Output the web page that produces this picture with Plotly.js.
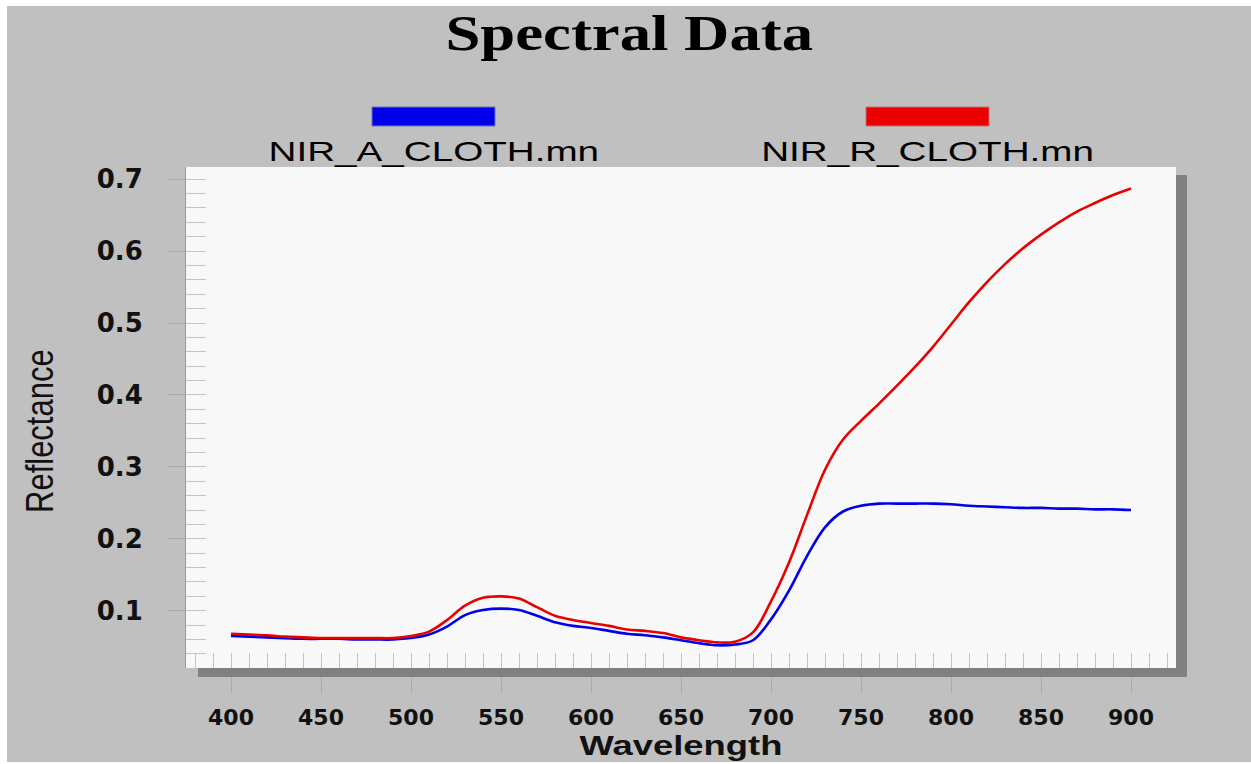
<!DOCTYPE html>
<html>
<head>
<meta charset="utf-8">
<script src="https://cdn.plot.ly/plotly-3.0.1.min.js"></script>
<style>
html,body{margin:0;padding:0;background:#fff;}
#chart{width:1251px;height:764px;}
/* the reference picture is stretched horizontally: widen some texts the same way */
#chart .gtitle{transform-box:fill-box;transform-origin:center;transform:scaleX(1.23);}
#chart .xtitle{transform-box:fill-box;transform-origin:center;transform:scaleX(1.3);}
#chart g.annotation[data-index="0"] text,
#chart g.annotation[data-index="1"] text{transform-box:fill-box;transform-origin:center;transform:scaleX(1.38);}
#chart g.annotation[data-index="2"] text{transform-box:fill-box;transform-origin:center;transform:scaleY(1.28);}
</style>
</head>
<body>
<div id="chart"></div>
<script>
// ---- data ----
const chartTitle = 'Spectral Data';
const xTitle = 'Wavelength';
const yTitle = 'Reflectance';
const seriesNames = ['NIR_A_CLOTH.mn', 'NIR_R_CLOTH.mn'];
const seriesColors = ['rgb(0,0,235)', 'rgb(235,0,0)'];

const wavelength = [400,410,420,430,440,450,460,470,480,490,
                    500,510,520,530,540,550,560,570,580,590,
                    600,610,620,630,640,650,660,670,680,690,
                    700,710,720,730,740,750,760,770,780,790,
                    800,810,820,830,840,850,860,870,880,890,900];

const reflA = [0.065,0.064,0.063,0.062,0.061,0.061,0.061,0.060,0.060,0.060,
               0.062,0.067,0.078,0.094,0.101,0.103,0.101,0.093,0.084,0.079,
               0.076,0.072,0.068,0.066,0.063,0.059,0.055,0.052,0.053,0.059,
               0.088,0.128,0.176,0.216,0.238,0.246,0.249,0.249,0.249,0.249,
               0.248,0.246,0.245,0.244,0.243,0.243,0.242,0.242,0.241,0.241,0.240];

const reflR = [0.068,0.067,0.066,0.064,0.063,0.062,0.062,0.062,0.062,0.062,
               0.065,0.071,0.087,0.107,0.118,0.120,0.117,0.105,0.093,0.087,
               0.083,0.079,0.074,0.072,0.069,0.063,0.059,0.056,0.057,0.070,
               0.113,0.167,0.233,0.296,0.338,0.364,0.388,0.413,0.439,0.467,
               0.498,0.529,0.557,0.582,0.604,0.623,0.640,0.655,0.667,0.678,0.687];

const xTickVals = [400,450,500,550,600,650,700,750,800,850,900];
const yTickVals = [0.1,0.2,0.3,0.4,0.5,0.6,0.7];

// ---- layout geometry (pixels) ----
const W = 1251, H = 764;
const L = 186, R = 1176, T = 167, B = 668;
const PX = p => (p - L) / (R - L);      // pixel x -> paper x
const PY = p => (B - p) / (B - T);      // pixel y -> paper y

const traces = [
  {x: wavelength, y: reflA, name: seriesNames[0], type: 'scatter', mode: 'lines',
   line: {color: seriesColors[0], width: 2.6, shape: 'spline', smoothing: 1}},
  {x: wavelength, y: reflR, name: seriesNames[1], type: 'scatter', mode: 'lines',
   line: {color: seriesColors[1], width: 2.6, shape: 'spline', smoothing: 1}},
  // invisible trace carrying the overlaying inner-tick axes
  {x: [wavelength[0]], y: [reflA[0]], xaxis: 'x2', yaxis: 'y2', mode: 'none',
   showlegend: false, hoverinfo: 'skip'}
];

const shadow = '#808080';
const shapes = [
  // drop shadow (right and bottom strips)
  {type: 'rect', xref: 'paper', yref: 'paper', layer: 'above', line: {width: 0},
   fillcolor: shadow, x0: PX(1176), x1: PX(1187), y0: PY(677), y1: PY(175)},
  {type: 'rect', xref: 'paper', yref: 'paper', layer: 'above', line: {width: 0},
   fillcolor: shadow, x0: PX(198), x1: PX(1187), y0: PY(677), y1: PY(668)},
  // legend swatches
  {type: 'rect', xref: 'paper', yref: 'paper', line: {color: '#7070c0', width: 1},
   fillcolor: seriesColors[0], x0: PX(372), x1: PX(495), y0: PY(126), y1: PY(107)},
  {type: 'rect', xref: 'paper', yref: 'paper', line: {color: '#c07070', width: 1},
   fillcolor: seriesColors[1], x0: PX(866), x1: PX(989), y0: PY(126), y1: PY(107)},
  // white image borders
  {type: 'rect', xref: 'paper', yref: 'paper', layer: 'above', line: {width: 0},
   fillcolor: '#ffffff', x0: PX(0), x1: PX(W), y0: PY(6), y1: PY(0)},
  {type: 'rect', xref: 'paper', yref: 'paper', layer: 'above', line: {width: 0},
   fillcolor: '#ffffff', x0: PX(0), x1: PX(7), y0: PY(H), y1: PY(0)},
  {type: 'rect', xref: 'paper', yref: 'paper', layer: 'above', line: {width: 0},
   fillcolor: '#ffffff', x0: PX(0), x1: PX(W), y0: PY(H), y1: PY(762)}
];

const legendFont = {family: 'Liberation Sans, Arial, sans-serif', size: 28, color: '#000'};
const annotations = [
  {xref: 'paper', yref: 'paper', x: PX(433.5), y: PY(151), text: seriesNames[0],
   showarrow: false, xanchor: 'center', yanchor: 'middle', font: legendFont},
  {xref: 'paper', yref: 'paper', x: PX(927.5), y: PY(151), text: seriesNames[1],
   showarrow: false, xanchor: 'center', yanchor: 'middle', font: legendFont},
  // y-axis title
  {xref: 'paper', yref: 'paper', x: PX(40), y: PY(431), text: yTitle, textangle: -90,
   showarrow: false, xanchor: 'center', yanchor: 'middle',
   font: {family: 'Liberation Sans, Arial, sans-serif', size: 31, color: '#111'}}
];

const tickFontY = {family: 'DejaVu Sans, Arial, sans-serif', size: 26, color: '#111', weight: 'bold'};
const tickFontX = {family: 'DejaVu Sans, Arial, sans-serif', size: 22, color: '#111', weight: 'bold'};

const layout = {
  width: W, height: H,
  paper_bgcolor: '#c0c0c0',
  plot_bgcolor: '#f8f8f8',
  margin: {l: L, r: W - R, t: T, b: H - B, pad: 0},
  showlegend: false,
  title: {
    text: '<b>' + chartTitle + '</b>',
    font: {family: 'Liberation Serif, Times New Roman, serif', size: 51, color: '#000'},
    xref: 'container', x: 0.503, xanchor: 'center',
    yref: 'container', y: 1 - 32 / H, yanchor: 'middle'
  },
  xaxis: {
    range: [375, 925], tickvals: xTickVals, ticktext: xTickVals.map(String),
    ticks: 'outside', ticklen: 24, tickcolor: '#a8a8a8', tickwidth: 1,
    showgrid: false, zeroline: false, showline: false,
    tickfont: tickFontX, ticklabelstandoff: 6,
    title: {text: '<b>' + xTitle + '</b>', standoff: 6,
            font: {family: 'Liberation Sans, Arial, sans-serif', size: 28, color: '#111'}}
  },
  yaxis: {
    range: [0.0204, 0.717], tickvals: yTickVals, ticktext: yTickVals.map(v => v.toFixed(1)),
    ticks: 'outside', ticklen: 17, tickcolor: '#a8a8a8', tickwidth: 1,
    showgrid: false, zeroline: false, showline: true, linecolor: '#9a9a9a', linewidth: 1,
    tickfont: tickFontY, ticklabelstandoff: 20
  },
  xaxis2: {
    overlaying: 'x', matches: 'x', anchor: 'y2', side: 'bottom',
    tickmode: 'linear', tick0: 400, dtick: 10,
    ticks: 'inside', ticklen: 15, tickcolor: '#c4c4c4', tickwidth: 1,
    showticklabels: false, showgrid: false, zeroline: false, showline: false
  },
  yaxis2: {
    overlaying: 'y', matches: 'y', anchor: 'x2', side: 'left',
    tickmode: 'linear', tick0: 0, dtick: 0.02,
    ticks: 'inside', ticklen: 20, tickcolor: '#c4c4c4', tickwidth: 1,
    showticklabels: false, showgrid: false, zeroline: false, showline: false
  },
  shapes: shapes,
  annotations: annotations
};

Plotly.newPlot('chart', traces, layout, {displayModeBar: false, staticPlot: true});
</script>
</body>
</html>
